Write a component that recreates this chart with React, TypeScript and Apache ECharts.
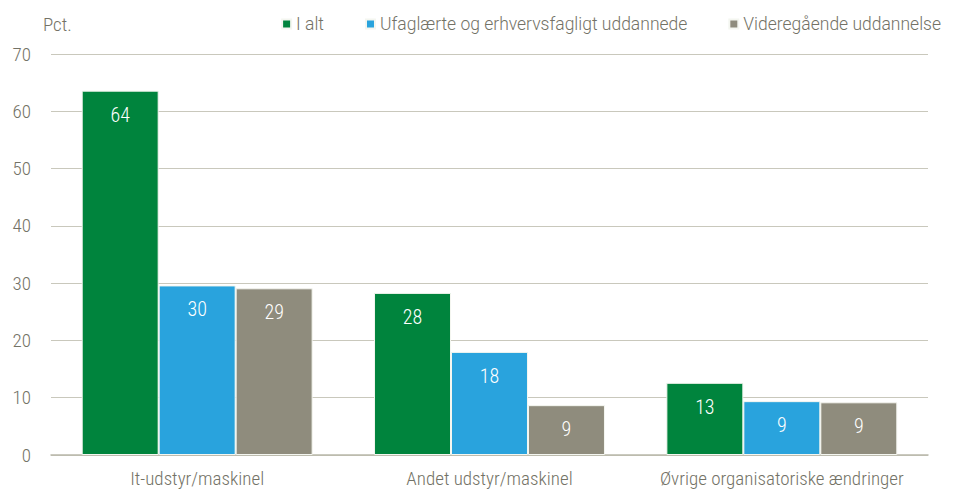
import React, { useEffect, useRef } from "react";
import * as echarts from "echarts";

const categories = ["It-udstyr/maskinel", "Andet udstyr/maskinel", "Øvrige organisatoriske ændringer"];
const seriesNames = ["I alt", "Ufaglærte og erhvervsfagligt uddannede", "Videregående uddannelse"];
const iAlt = [63.6, 28.3, 12.6];
const ufaglaerte = [29.6, 18.0, 9.4];
const videregaaende = [29.1, 8.7, 9.2];
const yTicks = { min: 0, max: 70, interval: 10 };
const colors = ["#00843D", "#29A3DD", "#8F8C7D"];

const COND = "'Roboto Condensed', 'Liberation Sans', sans-serif";
const REG = "Roboto, 'Liberation Sans', sans-serif";
const TEXT = "#737266";

export default function App() {
  const ref = useRef<HTMLDivElement>(null);
  useEffect(() => {
    if (!ref.current) return;
    const chart = echarts.init(ref.current, undefined, { renderer: "svg" });
    const values = [iAlt, ufaglaerte, videregaaende];
    chart.setOption({
      animation: false,
      textStyle: { fontFamily: COND },
      legend: {
        top: 10,
        right: 14,
        itemWidth: 9,
        itemHeight: 9,
        itemGap: 41,
        icon: "rect",
        textStyle: { color: TEXT, fontSize: 17.5, fontFamily: REG, fontWeight: 300 },
        data: seriesNames,
      },
      grid: { left: 51, right: 32, top: 54, bottom: 36, containLabel: false },
      xAxis: {
        type: "category",
        data: categories,
        axisLine: { lineStyle: { color: "#b9b8aa", width: 1.5 } },
        axisTick: { show: false },
        axisLabel: { color: TEXT, fontSize: 19, fontFamily: COND, fontWeight: 300, margin: 14, interval: 0 },
      },
      yAxis: {
        type: "value",
        min: yTicks.min,
        max: yTicks.max,
        interval: yTicks.interval,
        name: "Pct.",
        nameLocation: "end",
        nameGap: 20,
        nameTextStyle: { color: TEXT, fontSize: 19, fontFamily: COND, fontWeight: 300, align: "left", padding: [0, 0, 0, -8] },
        axisLine: { show: false },
        axisTick: { show: false },
        axisLabel: { color: TEXT, fontSize: 19, fontFamily: COND, fontWeight: 300, margin: 20 },
        splitLine: { lineStyle: { color: "#c9c8bc", width: 1.2 } },
      },
      series: seriesNames.map((name, i) => ({
        name,
        type: "bar",
        data: values[i],
        barGap: "0%",
        barCategoryGap: "21%",
        itemStyle: { color: colors[i], borderColor: "#f4f6f0", borderWidth: 1 },
        label: {
          show: true,
          position: "insideTop",
          distance: 14,
          color: "#ffffff",
          fontSize: 20,
          fontFamily: COND,
          fontWeight: 300,
          formatter: (p: any) => String(Math.round(p.value)),
        },
      })),
    });
    return () => chart.dispose();
  }, []);
  return <div ref={ref} style={{ position: "absolute", left: 0, top: 0, width: 960, height: 491 }} />;
}
